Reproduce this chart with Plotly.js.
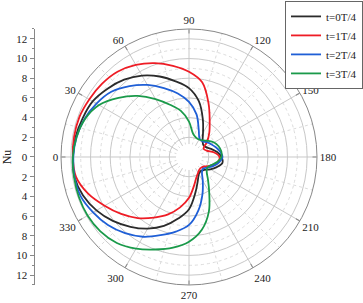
<!DOCTYPE html>
<html>
<head>
<meta charset="utf-8">
<script src="https://cdn.plot.ly/plotly-3.0.1.min.js"></script>
<style>html,body{margin:0;padding:0;background:#fff}#chart{width:363px;height:303px}</style>
</head>
<body>
<div id="chart"></div>
<script>
// ---- data ----
const theta = [0,10,20,30,40,50,60,70,80,90,100,110,120,130,140,150,160,170,180,190,200,210,220,230,240,250,260,270,280,290,300,310,320,330,340,350];
const seriesNames = ['t=0T/4','t=1T/4','t=2T/4','t=3T/4'];
const nu0T = [11.8,11.7,11.5,11.3,10.8,10.25,9.55,8.7,7.8,7.0,5.75,4.1,2.85,2.15,1.9,2.0,2.4,2.9,3.3,3.45,3.0,2.5,2.05,1.85,2.0,2.6,3.7,5.3,6.35,7.45,8.4,9.25,10.1,10.85,11.45,11.8];
const nu1T = [11.8,11.85,11.85,11.7,11.55,11.3,10.8,10.15,9.4,8.65,7.7,5.8,4.2,3.2,2.4,1.7,1.9,2.6,3.1,3.0,2.5,1.9,1.65,1.65,1.85,2.2,2.95,4.15,5.2,6.2,7.1,8.1,9.0,9.9,10.9,11.65];
const nu2T = [11.75,11.6,11.3,10.85,10.3,9.4,8.45,7.45,6.55,5.6,4.4,2.9,2.15,2.1,2.35,2.6,2.9,3.2,3.4,3.1,2.65,2.15,1.85,2.05,2.8,4.0,5.5,6.9,7.7,8.45,9.35,10.1,10.75,11.25,11.7,11.8];
const nu3T = [11.8,11.6,11.25,10.55,9.35,8.1,6.8,5.65,4.75,3.6,2.4,2.1,2.05,2.2,2.55,2.95,3.2,3.33,3.3,2.9,2.4,2.15,2.35,3.0,4.1,5.9,7.5,8.6,9.35,10.0,10.75,11.4,11.75,11.9,11.9,11.85];
const angTicks = [0,30,60,90,120,150,180,210,240,270,300,330];
const angMinor = [15,45,75,105,135,165,195,225,255,285,315,345];
const radMajor = [2,4,6,8,10,12];
const radMinor = [1,3,5,7,9,11];
const nuTickVals = [-12,-10,-8,-6,-4,-2,0,2,4,6,8,10,12];
const nuTickText = ['12','10','8','6','4','2','0','2','4','6','8','10','12'];

// ---- style ----
const colors = ['#2b2b2b','#ee1c25','#1f5fd6','#1a9a4a'];
const FONT = '"Liberation Serif", "Times New Roman", serif';
const close = a => a.concat([a[0]]);
const thetaC = theta.concat([360]);

const traces = [
  {type:'scatterpolar', subplot:'polar', r:[], theta:[], showlegend:false, hoverinfo:'skip'},
  {type:'scatterpolar', subplot:'polar2', r:[0], theta:[0], mode:'markers',
   marker:{size:26, color:'#ffffff', line:{width:0}}, showlegend:false, hoverinfo:'skip'},
  {type:'scatter', x:[], y:[], xaxis:'x', yaxis:'y', showlegend:false, hoverinfo:'skip'}
];
[nu0T, nu1T, nu2T, nu3T].forEach((s, i) => {
  traces.push({type:'scatterpolar', subplot:'polar2', r:close(s), theta:thetaC, mode:'lines',
    name:seriesNames[i], line:{color:colors[i], width:1.8, shape:'spline', smoothing:1}});
});

const dom = {x:[61/363, 317/363], y:[0.0594, 0.9043]};
const layout = {
  width:363, height:303,
  margin:{l:0, r:0, t:0, b:0},
  paper_bgcolor:'#fff',
  font:{family:FONT, size:11, color:'#222'},
  showlegend:true,
  legend:{x:1, xanchor:'right', y:0.997, yanchor:'top', bgcolor:'#fff', bordercolor:'#666', borderwidth:1,
          font:{family:FONT, size:11, color:'#222'}, tracegroupgap:0, itemwidth:30},
  polar:{
    domain:dom, bgcolor:'#fff',
    radialaxis:{range:[0,13], tickvals:radMinor, showticklabels:false, ticks:'', showline:false,
                gridcolor:'#dcdcdc', gridwidth:1, griddash:'dot'},
    angularaxis:{rotation:180, direction:'clockwise', tickvals:angMinor, showticklabels:false, ticks:'',
                 showline:false, gridcolor:'#dcdcdc', gridwidth:1, griddash:'dot'}
  },
  polar2:{
    domain:dom, bgcolor:'rgba(0,0,0,0)',
    radialaxis:{range:[0,13], tickvals:radMajor, showticklabels:false, ticks:'', showline:false,
                gridcolor:'#c8c8c8', gridwidth:1},
    angularaxis:{rotation:180, direction:'clockwise', tickvals:angTicks, ticktext:angTicks.map(String),
                 ticks:'inside', ticklen:4, tickcolor:'#888', showline:true, linecolor:'#888', linewidth:1,
                 gridcolor:'#c8c8c8', gridwidth:1, tickfont:{family:FONT, size:11, color:'#222'}}
  },
  xaxis:{domain:[0,0.09], visible:false},
  yaxis:{anchor:'free', position:33.5/363, side:'left', domain:[0.0594,0.9043], range:[-13,13],
         tickvals:nuTickVals, ticktext:nuTickText, ticks:'outside', ticklen:4, tickcolor:'#888',
         showline:true, linecolor:'#888', linewidth:1, showgrid:false, zeroline:false,
         minor:{dtick:1, ticks:'outside', ticklen:2, tickcolor:'#888', showgrid:false},
         tickfont:{family:FONT, size:11, color:'#222'},
         title:{text:'Nu', font:{family:FONT, size:12, color:'#222'}, standoff:4}}
};
Plotly.newPlot('chart', traces, layout, {staticPlot:true, displayModeBar:false});
</script>
</body>
</html>
